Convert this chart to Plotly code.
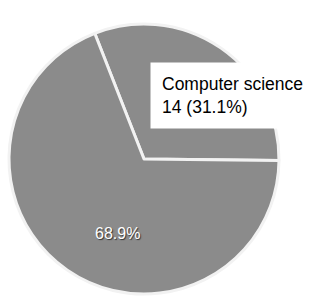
import plotly.graph_objects as go

labels = ["Computer science", "Other"]
values = [14, 31]

fig = go.Figure(go.Pie(
    labels=labels,
    values=values,
    sort=False,
    direction="clockwise",
    rotation=-21.4,
    marker=dict(colors=["#8b8b8b", "#8b8b8b"], line=dict(color="#f2f2f2", width=3)),
    textinfo="none",
    showlegend=False,
    hoverinfo="label+value+percent",
    domain=dict(x=[0.0288, 0.8942], y=[0.0423, 0.9218]),
))

total = sum(values)
cs_text = f"{labels[0]}<br>{values[0]} ({values[0] / total * 100:.1f}%)"
other_text = f"{values[1] / total * 100:.1f}%"

fig.add_annotation(
    x=150 / 312, y=1 - 62 / 307, xref="paper", yref="paper",
    xanchor="left", yanchor="top",
    text=cs_text, showarrow=False, align="left",
    font=dict(family="Liberation Sans, Arial", size=17.5, color="#000000"),
    bgcolor="white", borderpad=11, width=142,
)

fig.add_annotation(
    x=93 / 312, y=1 - 244 / 307, xref="paper", yref="paper",
    text=other_text, showarrow=False,
    font=dict(family="Liberation Sans, Arial", size=16, color="white",
              shadow="1px 1px 1px #333"),
)

fig.update_layout(
    width=312, height=307,
    margin=dict(l=0, r=0, t=0, b=0),
    paper_bgcolor="white", plot_bgcolor="white",
)

fig.write_html("out.html", config={"displayModeBar": False},
               post_script="document.body.style.margin='0';")
